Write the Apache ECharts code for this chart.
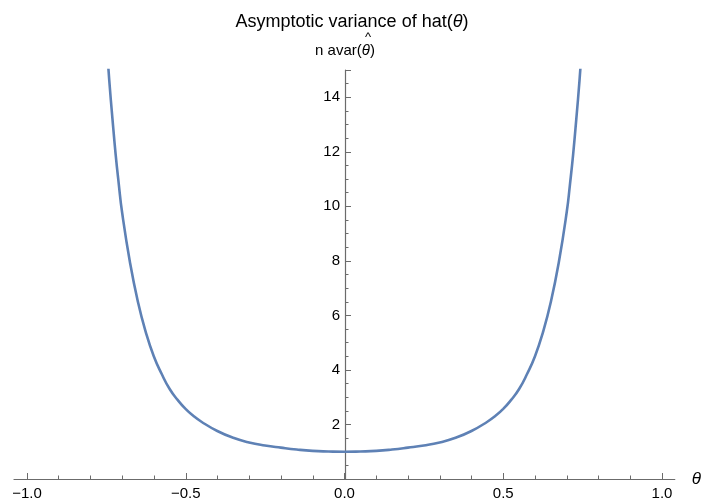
<!DOCTYPE html>
<html>
<head>
<meta charset="utf-8">
<script src="https://cdn.jsdelivr.net/npm/echarts@6/dist/echarts.min.js"></script>
<style>
  html, body { margin: 0; padding: 0; background: #fff; }
  #chart { width: 704px; height: 502px; }
</style>
</head>
<body>
<div id="chart"></div>
<script>
// values
var theta = [-0.75, -0.74, -0.73, -0.72, -0.71, -0.70, -0.675, -0.65, -0.625, -0.60, -0.575, -0.55, -0.525, -0.50, -0.475, -0.45, -0.40, -0.35, -0.30, -0.25, -0.20, -0.15, -0.10, -0.05, 0,
             0.05, 0.10, 0.15, 0.20, 0.25, 0.30, 0.35, 0.40, 0.45, 0.475, 0.50, 0.525, 0.55, 0.575, 0.60, 0.625, 0.65, 0.675, 0.70, 0.71, 0.72, 0.73, 0.74, 0.75];
var avar = [16.2, 14.6, 13.2, 11.9, 10.8, 9.8, 7.95, 6.5, 5.38, 4.5, 3.85, 3.3, 2.9, 2.57, 2.31, 2.1, 1.76, 1.51, 1.34, 1.23, 1.15, 1.08, 1.03, 1.01, 1.00,
            1.01, 1.03, 1.08, 1.15, 1.23, 1.34, 1.51, 1.76, 2.1, 2.31, 2.57, 2.9, 3.3, 3.85, 4.5, 5.38, 6.5, 7.95, 9.8, 10.8, 11.9, 13.2, 14.6, 16.2];
var xTicks = [-1, -0.5, 0, 0.5, 1];
var yTicks = [2, 4, 6, 8, 10, 12, 14];

var points = [];
for (var i = 0; i < theta.length; i++) {
  points.push([theta[i], avar[i]]);
}

var axisGray = '#6b6b6b';
var font = 'Liberation Sans, Arial, sans-serif';

var myChart = echarts.init(document.getElementById('chart'));

var option = {
  backgroundColor: '#fff',
  animation: false,
  title: {
    text: 'Asymptotic variance of hat({i|θ})',
    left: 'center',
    top: 8,
    textStyle: {
      fontFamily: font, fontSize: 18, fontWeight: 'normal', color: '#000',
      rich: { i: { fontFamily: font, fontSize: 18, fontStyle: 'italic', color: '#000' } }
    }
  },
  grid: [
    { left: 14, right: 28, top: 70, bottom: 23 },
    { left: 27, right: 42, top: 70, bottom: 23 }
  ],
  xAxis: [
    {
      type: 'value', gridIndex: 0, min: -1.04, max: 1.04,
      name: 'θ', nameLocation: 'end', nameGap: 17,
      nameTextStyle: { fontFamily: font, fontSize: 17, fontStyle: 'italic', color: '#000', verticalAlign: 'middle' },
      axisLine: { onZero: false, lineStyle: { color: axisGray, width: 1.2 } },
      axisTick: { show: false }, axisLabel: { show: false }, splitLine: { show: false }
    },
    {
      type: 'value', gridIndex: 1, min: xTicks[0], max: xTicks[xTicks.length - 1], interval: 0.5,
      axisLine: { show: false, onZero: false },
      axisTick: { show: true, inside: true, length: 6, lineStyle: { color: axisGray } },
      minorTick: { show: true, splitNumber: 5, length: 3.5, lineStyle: { color: axisGray } },
      axisLabel: {
        margin: 7, fontFamily: font, fontSize: 15, color: '#000',
        formatter: function (v) { return v.toFixed(1).replace('-', '\u2212'); }
      },
      splitLine: { show: false }
    }
  ],
  yAxis: [
    {
      type: 'value', gridIndex: 0, min: 0, max: 15, interval: 2,
      position: 'left', offset: -331,
      name: 'n avar({i|θ})', nameLocation: 'end', nameGap: 12,
      nameTextStyle: {
        fontFamily: font, fontSize: 15, color: '#000',
        rich: { i: { fontFamily: font, fontSize: 15, fontStyle: 'italic', color: '#000' } }
      },
      axisLine: { show: true, onZero: false, lineStyle: { color: axisGray, width: 1.2 } },
      axisTick: { show: true, inside: true, length: 6, lineStyle: { color: axisGray } },
      minorTick: { show: true, splitNumber: 4, length: 3.5, lineStyle: { color: axisGray } },
      axisLabel: {
        margin: 5, fontFamily: font, fontSize: 15, color: '#000',
        formatter: function (v) { return yTicks.indexOf(v) >= 0 ? String(v) : ''; }
      },
      splitLine: { show: false }
    },
    {
      type: 'value', gridIndex: 1, min: 0, max: 15, show: false
    }
  ],
  graphic: [{
    type: 'text',
    left: 365, top: 31,
    style: { text: '^', fontFamily: font, fontSize: 13, fill: '#000' }
  }],
  series: [{
    type: 'line',
    xAxisIndex: 0, yAxisIndex: 0,
    data: points,
    showSymbol: false,
    smooth: true,
    clip: true,
    lineStyle: { color: '#5e81b5', width: 2.6 }
  }]
};

myChart.setOption(option);
</script>
</body>
</html>
